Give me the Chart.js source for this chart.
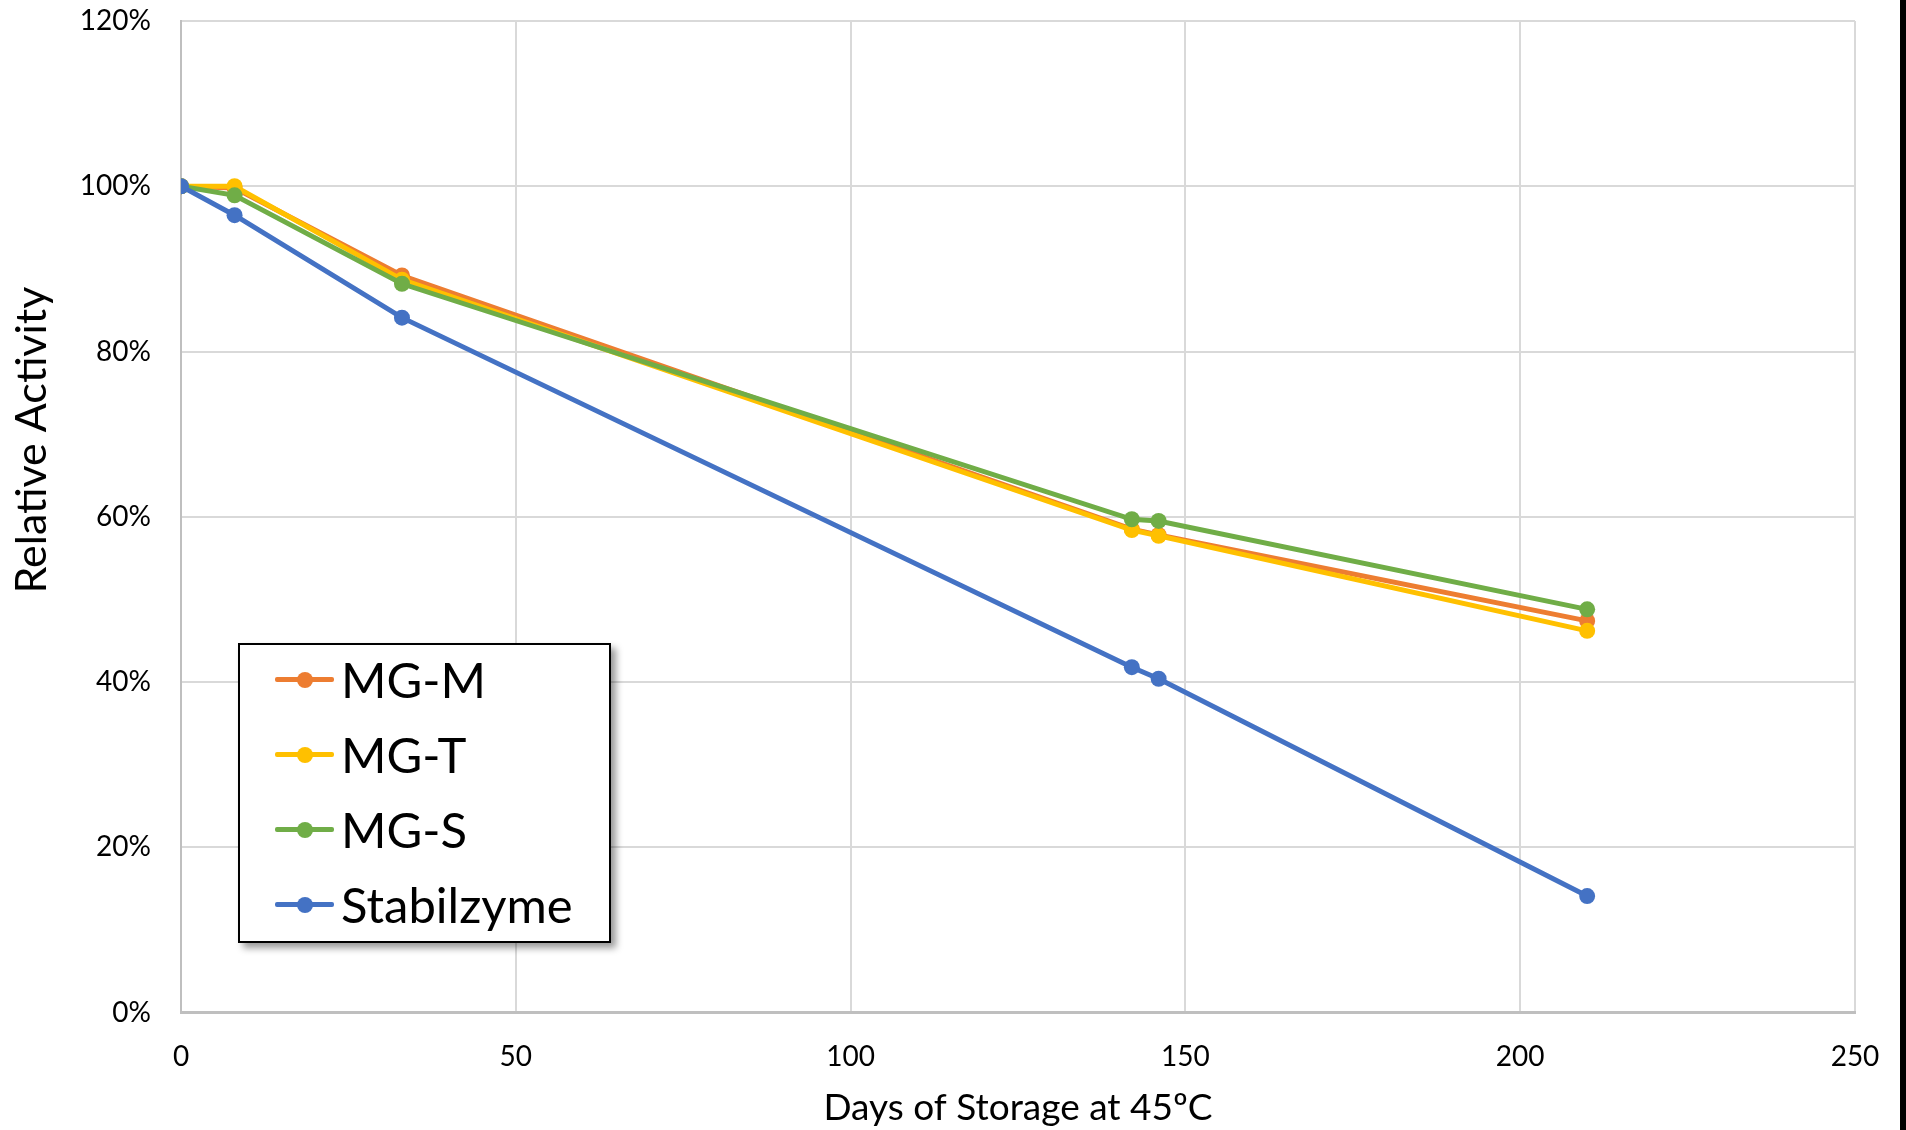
<!DOCTYPE html>
<html>
<head>
<meta charset="utf-8">
<script src="https://cdn.jsdelivr.net/npm/chart.js@4.4.0/dist/chart.umd.min.js"></script>
<style>
    html, body { margin: 0; padding: 0; background: #fff; overflow: hidden; }
    #wrap { position: relative; width: 1906px; height: 1130px; overflow: hidden; }
    #activityChart { position: absolute; left: 0; top: 0; }
    #edge { position: fixed; right: 0; top: 0; width: 6px; height: 1130px; background: #000; z-index: 5; }
    #legend {
        position: absolute; left: 238px; top: 643px; width: 369px; height: 296px;
        border: 2.5px solid #000; background: #fff;
        box-shadow: 5px 5px 7px rgba(0, 0, 0, 0.4);
        font-family: Lato, 'Open Sans', sans-serif;
    }
    .legend-row { position: absolute; left: 0; height: 75px; display: flex; align-items: center; }
    .swatch { position: relative; margin-left: 35px; width: 59px; height: 5px; border-radius: 2px; }
    .swatch .dot { position: absolute; left: 21.5px; top: -5.5px; width: 16px; height: 16px; border-radius: 50%; }
    .legend-label { margin-left: 7px; font-size: 49px; line-height: 1; color: #000; }
</style>
</head>
<body>
<div id="wrap">
    <canvas id="activityChart" width="1906" height="1130"></canvas>
    <div id="legend"></div>
</div>
<div id="edge"></div>
<script>
// days of storage at 45C and relative activity (fraction of day 0)
const days = [0, 8, 33, 142, 146, 210];
const mgM = [1.00, 0.998, 0.892, 0.585, 0.578, 0.474];
const mgT = [1.00, 1.00, 0.887, 0.584, 0.577, 0.462];
const mgS = [1.00, 0.989, 0.882, 0.597, 0.595, 0.488];
const stabilzyme = [1.00, 0.965, 0.841, 0.418, 0.404, 0.141];

const seriesNames = ['MG-M', 'MG-T', 'MG-S', 'Stabilzyme'];
const seriesColors = ['#ED7D31', '#FFC000', '#70AD47', '#4472C4'];
const seriesValues = [mgM, mgT, mgS, stabilzyme];

const FONT = 'Lato, "Open Sans", sans-serif';

// y axis title sits above the middle of the axis in the original, so draw it ourselves
const yTitlePlugin = {
    id: 'yTitle',
    afterDraw(chart, args, opts) {
        const ctx = chart.ctx;
        ctx.save();
        ctx.translate(opts.x, opts.y);
        ctx.rotate(-Math.PI / 2);
        ctx.font = `${opts.size}px ${FONT}`;
        ctx.fillStyle = '#000';
        ctx.textAlign = 'center';
        ctx.textBaseline = 'middle';
        ctx.fillText(opts.text, 0, 0);
        ctx.restore();
    }
};

document.addEventListener('DOMContentLoaded', () => {
    const datasets = seriesValues.map((vals, i) => ({
        label: seriesNames[i],
        data: days.map((d, j) => ({ x: d, y: vals[j] })),
        borderColor: seriesColors[i],
        backgroundColor: seriesColors[i],
        pointBackgroundColor: seriesColors[i],
        pointBorderWidth: 0,
        pointRadius: 8,
        borderWidth: 5,
        tension: 0,
        // later series drawn on top, like the original
        order: seriesValues.length - i
    }));

    const ctx = document.getElementById('activityChart').getContext('2d');
    new Chart(ctx, {
        type: 'line',
        data: { datasets },
        plugins: [yTitlePlugin],
        options: {
            responsive: false,
            animation: false,
            layout: { padding: { left: 0, top: 21, right: 51, bottom: 0 } },
            plugins: {
                legend: { display: false },
                tooltip: { enabled: false },
                title: { display: false },
                yTitle: { text: 'Relative Activity', x: 32, y: 440, size: 43 }
            },
            scales: {
                x: {
                    type: 'linear',
                    min: 0,
                    max: 250,
                    ticks: {
                        stepSize: 50,
                        padding: 0,
                        color: '#000',
                        font: { family: FONT, size: 28 }
                    },
                    grid: { color: '#d9d9d9', lineWidth: 2, drawTicks: true, tickLength: 28, tickColor: 'rgba(0,0,0,0)' },
                    border: { color: '#bfbfbf', width: 3 },
                    title: {
                        display: true,
                        text: 'Days of Storage at 45ºC',
                        color: '#000',
                        font: { family: FONT, size: 37 },
                        padding: { top: 0, bottom: 0 }
                    },
                    afterFit: scale => { scale.height = 117.4; }
                },
                y: {
                    min: 0,
                    max: 1.2,
                    ticks: {
                        stepSize: 0.2,
                        padding: 0,
                        color: '#000',
                        font: { family: FONT, size: 28 },
                        callback: v => Math.round(v * 100) + '%'
                    },
                    grid: { color: '#d9d9d9', lineWidth: 2, drawTicks: true, tickLength: 30, tickColor: 'rgba(0,0,0,0)' },
                    border: { color: '#bfbfbf', width: 2 },
                    title: { display: false },
                    afterFit: scale => { scale.width = 181; }
                }
            }
        }
    });

    // legend box floating inside the plot
    const legend = document.getElementById('legend');
    legend.innerHTML = seriesNames.map((name, i) => `
        <div class="legend-row" style="top:${-3 + i * 75}px">
            <div class="swatch" style="background:${seriesColors[i]}">
                <div class="dot" style="background:${seriesColors[i]}"></div>
            </div>
            <span class="legend-label">${name}</span>
        </div>
    `).join('');
});
</script>
</body>
</html>
